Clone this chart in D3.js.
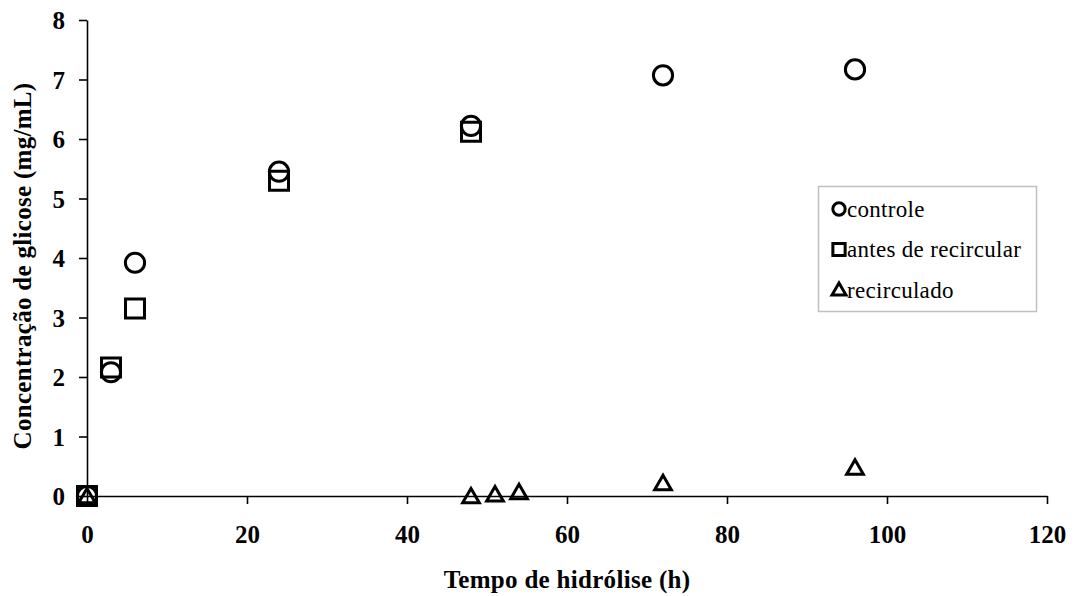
<!DOCTYPE html>
<html>
<head>
<meta charset="utf-8">
<script src="https://cdn.jsdelivr.net/npm/d3@7"></script>
<style>
body { margin: 0; background: #fff; }
svg { display: block; }
svg text { font-family: "Liberation Serif", "Times New Roman", Times, serif; }
</style>
</head>
<body>
<svg id="chart"></svg>
<script>
var width = 1074, height = 596;

// tempo (h) e glicose (mg/mL)
var controle_t = [0, 3, 6, 24, 48, 72, 96];
var controle_v = [0, 2.08, 3.92, 5.45, 6.22, 7.07, 7.17];
var antes_t = [0, 3, 6, 24, 48];
var antes_v = [0, 2.16, 3.15, 5.3, 6.12];
var recirc_t = [0, 48, 51, 54, 72, 96];
var recirc_v = [0, 0, 0.03, 0.07, 0.22, 0.48];

var x_ticks = [0, 20, 40, 60, 80, 100, 120];
var y_ticks = [0, 1, 2, 3, 4, 5, 6, 7, 8];
var series_names = ["controle", "antes de recircular", "recirculado"];

var svg = d3.select("#chart").attr("width", width).attr("height", height);

var x = d3.scaleLinear().domain([0, 120]).range([87, 1047]);
var y = d3.scaleLinear().domain([0, 8]).range([496, 20]);

// eixo x
var gx = svg.append("g")
    .attr("transform", "translate(0," + y(0) + ")")
    .call(d3.axisBottom(x).tickValues(x_ticks).tickSize(8).tickSizeOuter(0).tickPadding(21));
// eixo y
var gy = svg.append("g")
    .attr("transform", "translate(" + x(0) + ",0)")
    .call(d3.axisLeft(y).tickValues(y_ticks).tickSize(8).tickSizeOuter(0).tickPadding(14));

[gx, gy].forEach(function(g){
    g.attr("font-family", null);
    g.select(".domain").attr("stroke", "#000").attr("stroke-width", 1.6);
    g.selectAll(".tick line").attr("stroke", "#000").attr("stroke-width", 1.6);
    g.selectAll(".tick text")
        .attr("fill", "#000")
        .style("font-weight", "bold")
        .style("font-size", "25px");
});
gy.selectAll(".tick text").attr("dy", "0.34em");

svg.append("text")
    .attr("x", (x(0) + x(120)) / 2)
    .attr("y", 588)
    .attr("text-anchor", "middle")
    .style("font-weight", "bold")
    .style("font-size", "25px")
    .style("letter-spacing", "0.3px")
    .text("Tempo de hidrólise (h)");

svg.append("text")
    .attr("transform", "translate(31," + 266 + ") rotate(-90)")
    .attr("text-anchor", "middle")
    .style("font-weight", "bold")
    .style("font-size", "25px")
    .style("letter-spacing", "0.3px")
    .text("Concentração de glicose (mg/mL)");

var shapes = [d3.symbolCircle, d3.symbolSquare, d3.symbolTriangle];
var sizes = [290, 360, 120];
var legend_sizes = [120, 150, 85];

var series = [
    controle_t.map(function(t, i){ return {t: t, v: controle_v[i]}; }),
    antes_t.map(function(t, i){ return {t: t, v: antes_v[i]}; }),
    recirc_t.map(function(t, i){ return {t: t, v: recirc_v[i]}; })
];

series.forEach(function(data, k){
    svg.append("g").selectAll("path")
        .data(data)
        .enter().append("path")
        .attr("transform", function(d){
            var dy = k == 2 ? 2 : 0;
            return "translate(" + x(d.t) + "," + (y(d.v) + dy) + ")";
        })
        .attr("d", d3.symbol().type(shapes[k]).size(sizes[k]))
        .attr("fill", "none")
        .attr("stroke", "#000")
        .attr("stroke-width", 3);
});

// legenda
svg.append("rect")
    .attr("x", 818.5).attr("y", 186.5)
    .attr("width", 218).attr("height", 125)
    .attr("fill", "#fff")
    .attr("stroke", "#c0c0c0")
    .attr("stroke-width", 1.5);

var leg = svg.append("g").selectAll("g")
    .data(series_names)
    .enter().append("g")
    .attr("transform", function(d, i){ return "translate(839," + (209 + i * 40.5) + ")"; });

leg.append("path")
    .attr("d", function(d, i){ return d3.symbol().type(shapes[i]).size(legend_sizes[i])(); })
    .attr("transform", function(d, i){ return i == 2 ? "translate(0,1)" : null; })
    .attr("fill", "none")
    .attr("stroke", "#000")
    .attr("stroke-width", 3);

leg.append("text")
    .attr("x", 8)
    .attr("y", 7.5)
    .style("font-size", "23px")
    .style("letter-spacing", "0.3px")
    .text(function(d){ return d; });
</script>
</body>
</html>
